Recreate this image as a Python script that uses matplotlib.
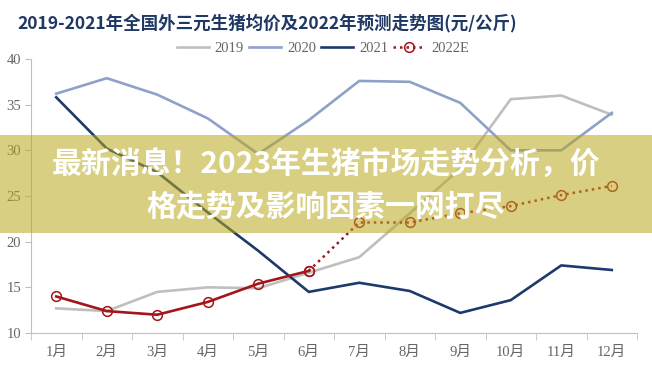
import matplotlib
matplotlib.use('Agg')
import matplotlib.pyplot as plt
from matplotlib.patches import Rectangle

plt.rcParams['font.family'] = ['Liberation Serif', 'Noto Sans CJK SC']

# 数据 (元/公斤)
months = ['1月', '2月', '3月', '4月', '5月', '6月', '7月', '8月', '9月', '10月', '11月', '12月']
price_2019 = [12.7, 12.4, 14.5, 15.0, 14.9, 16.6, 18.3, 23.1, 28.0, 35.6, 36.0, 33.9]
price_2020 = [36.2, 37.9, 36.1, 33.5, 29.6, 33.3, 37.6, 37.5, 35.2, 30.0, 30.0, 34.1]
price_2021 = [35.8, 30.2, 27.6, 23.2, 19.0, 14.5, 15.5, 14.6, 12.2, 13.6, 17.4, 16.9]
price_2022 = [14.0, 12.4, 12.0, 13.4, 15.4, 16.8, 22.1, 22.1, 23.1, 23.9, 25.1, 26.1]
n_actual = 6  # 1-6月为实际值, 之后为预测

c2019 = '#bfbfbf'
c2020 = '#8fa1c9'
c2021 = '#1c3a6b'
c2022 = '#a3141b'

fig = plt.figure(figsize=(6.52, 3.69), dpi=100)
ax = fig.add_axes([31/652, 36/369, 606/652, 274/369])

x = list(range(len(months)))
ax.plot(x, price_2019, color=c2019, lw=1.9, label='2019', zorder=2)
ax.plot(x, price_2020, color=c2020, lw=1.9, label='2020', zorder=2)
ax.plot(x, price_2021, color=c2021, lw=1.9, label='2021', zorder=3)
ax.plot(x[:n_actual], price_2022[:n_actual], color=c2022, lw=1.9,
        marker='o', ms=7, mfc='none', mec=c2022, mew=1.1, zorder=4)
ax.plot(x[n_actual - 1:], price_2022[n_actual - 1:], color=c2022, lw=1.8,
        ls=(0, (1, 1.6)), marker='o', ms=7, mfc='none', mec=c2022, mew=1.1,
        label='2022E', zorder=4)

ax.set_xlim(-0.5, len(months) - 0.5)
ax.set_ylim(10, 40)
ax.set_yticks(range(10, 41, 5))
ax.set_xticks(x)
ax.set_xticklabels(months)
ax.set_xticks([i + 0.5 for i in range(-1, len(months))], minor=True)
ax.tick_params(axis='x', which='major', length=0, pad=9, labelsize=10.5, labelcolor='#666666')
ax.tick_params(axis='x', which='minor', length=5, color='#bfbfbf', direction='out')
ax.tick_params(axis='y', length=4, color='#bfbfbf', labelsize=10.5, labelcolor='#666666', pad=3)

for s in ['top', 'right']:
    ax.spines[s].set_visible(False)
ax.spines['left'].set_color('#bfbfbf')
ax.spines['bottom'].set_color('#bfbfbf')

fig.legend(loc='center', bbox_to_anchor=(323/652, 1 - 48/369), ncol=4, frameon=False,
           fontsize=10.5, handlelength=2.2, handletextpad=0.4, columnspacing=0.35,
           labelcolor='#666666')

fig.text(17/652, 1 - 23/369, '2019-2021年全国外三元生猪均价及2022年预测走势图(元/公斤)',
         fontsize=12.6, fontweight='bold', color='#1f3864', ha='left', va='center',
         family=['Noto Sans CJK SC', 'DejaVu Sans'])

# 半透明横幅
banner = Rectangle((0, 136/369), 1, 98/369, transform=fig.transFigure,
                   facecolor='#b8a81c', alpha=0.55, edgecolor='none', zorder=10)
fig.add_artist(banner)
fig.text(0.5, 1 - 165/369, '最新消息！2023年生猪市场走势分析，价', fontsize=21.5,
         fontweight='black', color='white', ha='center', va='center', zorder=11,
         family=['Noto Sans CJK SC', 'DejaVu Sans'])
fig.text(0.5, 1 - 207/369, '格走势及影响因素一网打尽', fontsize=21.5,
         fontweight='black', color='white', ha='center', va='center', zorder=11,
         family=['Noto Sans CJK SC', 'DejaVu Sans'])

fig.savefig('out.png', dpi=100)
